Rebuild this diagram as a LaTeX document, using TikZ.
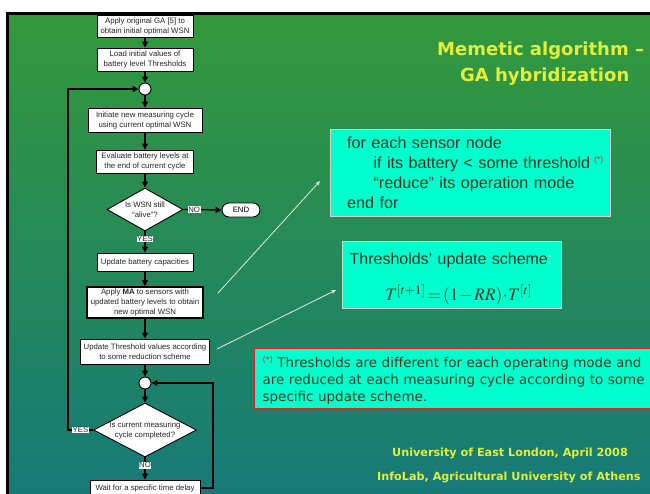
\documentclass[tikz,border=0pt]{standalone}
\usepackage{mathptmx}
\usepackage{fontspec}
\setmainfont{Liberation Sans}
\newfontfamily\slidefont{DejaVu Sans}
\usetikzlibrary{arrows.meta,shapes.geometric}

\definecolor{bgtop}{RGB}{51,153,58}
\definecolor{bgbottom}{RGB}{23,122,120}
\definecolor{aqua}{RGB}{0,255,204}
\definecolor{titleyellow}{RGB}{226,238,60}
\definecolor{darktext}{RGB}{55,52,40}
\definecolor{notetext}{RGB}{72,58,42}
\definecolor{noteframe}{RGB}{230,30,30}
\definecolor{starred}{RGB}{214,40,40}
\definecolor{pointer}{RGB}{225,235,228}

\newcommand\flowfont{\fontsize{7.8}{10}\selectfont}
\newcommand\topstrut[1]{\rule{0pt}{#1}}
\newcommand\botstrut[1]{\rule[-#1]{0pt}{0pt}}

\begin{document}
\begin{tikzpicture}[x=1pt,y=-1pt,
  flowbox/.style={draw=black, fill=white, line width=0.9pt, align=center,
    inner sep=1pt, font=\flowfont, text=black!85},
  junction/.style={circle, draw=black, fill=white, line width=0.9pt,
    minimum size=12pt, inner sep=0pt},
  decision/.style={diamond, draw=black, fill=white, line width=0.9pt,
    inner sep=0pt, align=center, font=\flowfont, text=black!85},
  terminal/.style={draw=black, fill=white, line width=0.9pt, rounded corners=7pt,
    minimum width=38pt, minimum height=14pt, inner sep=0pt, font=\flowfont},
  flowarrow/.style={line width=1.3pt, -{Triangle[length=6pt,width=6pt]}},
  tag/.style={fill=white, inner sep=0.6pt, font=\flowfont, text=black!85},
  pointerarrow/.style={draw=pointer, line width=0.8pt, -{Stealth[length=5pt,width=4pt]}},
  infobox/.style={fill=aqua, draw=pointer!80!gray, line width=1.2pt, anchor=north west,
    align=left, text=darktext, inner sep=0pt},
  slidetitle/.style={anchor=base west, inner sep=0pt, text=titleyellow,
    font=\slidefont\bfseries\fontsize{18}{22}\selectfont},
  footer/.style={anchor=base west, inner sep=0pt, text=titleyellow,
    font=\slidefont\bfseries\fontsize{11.2}{13}\selectfont}
]
\useasboundingbox (0,0) rectangle (650,493);
\clip (0,0) rectangle (650,493);

% slide background and frame
\fill[white] (0,0) rectangle (650,493);
\shade[top color=bgtop, bottom color=bgbottom] (7,13) rectangle (650,493);
\draw[line width=3pt] (7.5,500) -- (7.5,13.5) -- (660,13.5);

% flowchart
\node[flowbox, minimum width=96pt, minimum height=22pt] (ga) at (145,26)
  {Apply original GA [5] to\\obtain initial optimal WSN};
\node[flowbox, minimum width=96pt, minimum height=23pt] (load) at (145,59.5)
  {Load initial values of\\battery level Thresholds};
\node[junction] (j1) at (145,89) {};
\node[flowbox, minimum width=114pt, minimum height=24pt] (init) at (145,120)
  {Initiate new measuring cycle\\using current optimal WSN};
\node[flowbox, minimum width=97pt, minimum height=23pt] (eval) at (145,161.5)
  {Evaluate battery levels at\\the end of current cycle};
\node[decision, minimum width=76pt, minimum height=43pt, aspect=1.77] (alive) at (145,209.5)
  {Is WSN still\\“alive”?};
\node[terminal] (end) at (241,210) {END};
\node[flowbox, minimum width=96pt, minimum height=18pt] (cap) at (145,262)
  {Update battery capacities};
\node[flowbox, minimum width=116pt, minimum height=31pt, line width=1.6pt] (ma) at (145,302.5)
  {Apply \textbf{MA} to sensors with\\updated battery levels to obtain\\new optimal WSN};
\node[flowbox, minimum width=129pt, minimum height=25pt] (thr) at (145,351.5)
  {Update Threshold values according\\to some reduction scheme};
\node[junction] (j2) at (145,383) {};
\node[decision, minimum width=103pt, minimum height=54pt, aspect=1.9, inner xsep=-4pt] (done) at (145,430)
  {Is current measuring\\cycle completed?};
\node[flowbox, minimum width=110pt, minimum height=16pt] (wait) at (145,488)
  {Wait for a specific time delay};

\coordinate (loopL) at (68,89);
\coordinate (loopR) at (213,383);

\draw[flowarrow] (ga) -- (load);
\draw[flowarrow] (load) -- (j1);
\draw[flowarrow] (j1) -- (init);
\draw[flowarrow] (init) -- (eval);
\draw[flowarrow] (eval) -- (alive);
\draw[flowarrow] (alive.east) -- node[tag, pos=0.28] {NO} (end.west);
\draw[flowarrow] (alive.south) -- node[tag, pos=0.36] {YES} (cap.north);
\draw[flowarrow] (cap) -- (ma);
\draw[flowarrow] (ma) -- (thr);
\draw[flowarrow] (thr) -- (j2);
\draw[flowarrow] (j2) -- (done);
\draw[flowarrow] (done.south) -- node[tag, pos=0.35] {NO} (wait.north);
\draw[flowarrow] (done.west) -- node[tag] {YES} (done.west -| loopL) -- (loopL) -- (j1.west);
\draw[flowarrow] (wait.east) -- (wait.east -| loopR) -- (loopR) -- (j2.east);

% title
\node[slidetitle] (title1) at (437,55) {Memetic algorithm –};
\node[slidetitle] (title2) at (460,81.5) {GA hybridization};

% pseudo-code box
\node[infobox, text width=280pt, font=\fontsize{16.2}{20}\selectfont] (rule) at (330,128.5)
  {\topstrut{19pt}\hspace*{16.5pt}for each sensor node\\
   \hspace*{43pt}if its battery < some threshold\hspace{4pt}{\color{starred}\fontsize{8.5}{9}\selectfont\raisebox{5.5pt}{(*)}}\\
   \hspace*{43pt}“reduce” its operation mode\\
   \hspace*{16.5pt}end for\botstrut{8.3pt}};

% threshold update box
\node[infobox, text width=219pt, font=\fontsize{16}{19.6}\selectfont] (scheme) at (342,241)
  {\topstrut{23pt}\hspace*{7pt}Thresholds’ update scheme{\color{white}:}\\[16.4pt]
   \makebox[219pt][c]{\hspace*{13pt}\fontsize{17.5}{21}\selectfont$T^{[t+1]}\mkern-2mu=\mkern-2mu(1\mkern-2mu-\mkern-1mu RR)\mkern-2mu\cdot\mkern-2mu T^{[t]}$}\botstrut{7.5pt}};

% footnote box
\node[fill=aqua, draw=noteframe, line width=1.2pt, anchor=north west, align=left,
  text width=406pt, inner sep=0pt, text=notetext,
  font=\slidefont\fontsize{13.5}{17}\selectfont] (note) at (254,348)
  {\topstrut{18.7pt}\hspace*{8pt}{\color{starred}\fontsize{8}{8}\selectfont\raisebox{5pt}{(*)}} Thresholds are different for each operating mode and\\
   \hspace*{8pt}are reduced at each measuring cycle according to some\\
   \hspace*{8pt}specific update scheme.\botstrut{7pt}};

% pointers from the flowchart to the boxes
\coordinate (p1s) at (218,293);
\coordinate (p1e) at (320,181);
\coordinate (p2s) at (217,349);
\coordinate (p2e) at (336,290);
\draw[pointerarrow] (p1s) -- (p1e);
\draw[pointerarrow] (p2s) -- (p2e);

% footer
\node[footer] (venue) at (392,456) {University of East London, April 2008};
\node[footer] (lab) at (377,480) {InfoLab, Agricultural University of Athens};
\end{tikzpicture}
\end{document}
